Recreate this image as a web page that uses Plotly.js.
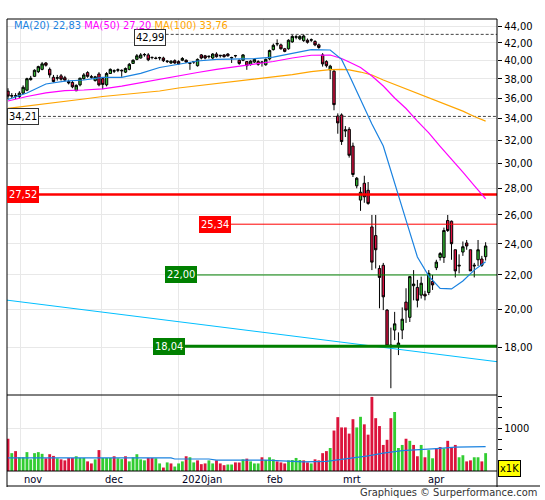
<!DOCTYPE html>
<html><head><meta charset="utf-8">
<script src="https://cdn.plot.ly/plotly-3.0.1.min.js"></script>
<style>html,body{margin:0;padding:0;background:#fff}#chart{width:545px;height:500px}</style>
</head><body><div id="chart"></div>
<script>
// ---- data ----
const openP = [36.7,36.2,36.25,36.15,36.5,36.8,37.9,38.25,38.75,39.0,
39.7,39.0,38.15,38.05,38.3,38.1,37.7,37.6,36.75,37.35,
38.0,38.65,38.15,37.8,38.5,38.0,37.35,38.55,38.8,38.9,
38.9,38.7,39.0,39.65,40.1,40.25,40.6,40.6,40.3,40.25,
40.25,40.25,39.85,39.7,39.95,39.85,40.0,40.0,39.65,39.8,
39.4,40.6,40.5,40.4,40.25,40.7,40.5,40.6,40.7,40.25,
40.5,40.0,40.0,39.85,39.55,39.8,39.85,39.75,39.5,40.15,
41.2,41.85,41.75,41.3,41.3,42.1,42.65,42.45,42.25,42.3,
42.3,42.15,41.75,40.6,39.85,38.95,38.8,34.25,34.35,32.85,
33.0,31.5,28.2,27.1,28.4,27.85,25.15,24.55,22.4,22.6,
19.95,18.1,18.87,18.05,18.87,20.4,19.55,21.35,21.25,20.8,
20.85,20.95,21.6,22.45,23.1,23.1,25.6,25.55,23.6,22.55,
23.45,24.05,23.6,22.55,22.95,23.0,23.15];
const highP = [37.0,36.5,36.5,36.7,37.3,38.1,38.3,39.0,39.4,39.8,
39.8,39.2,38.4,38.4,38.5,38.3,37.9,37.8,37.4,38.1,
38.6,38.8,38.4,38.3,38.7,38.1,38.7,39.1,39.0,39.1,
39.0,39.2,39.7,40.1,40.7,40.8,40.8,40.8,40.4,40.4,
40.4,40.4,40.0,40.0,40.1,40.0,40.35,40.1,39.8,39.9,
40.2,40.7,40.6,40.5,40.8,40.9,40.6,40.7,40.8,40.4,
40.6,40.1,40.7,39.9,40.0,40.2,40.0,39.9,40.2,41.2,
41.9,42.4,41.9,41.4,42.4,42.9,42.9,42.9,42.99,42.5,
42.5,42.3,41.9,40.8,40.0,39.5,39.0,34.5,34.5,33.3,
33.2,31.8,28.9,28.1,29.0,28.5,26.0,26.0,22.6,22.75,
20.0,19.0,19.85,18.75,20.1,21.2,21.9,22.3,21.7,21.9,
21.05,22.3,22.0,22.95,23.45,25.1,26.0,25.6,23.6,23.3,
24.15,24.25,23.6,22.75,24.25,23.2,24.1];
const lowP = [35.9,36.0,35.9,36.0,36.4,36.7,37.8,38.2,38.6,38.9,
39.3,38.1,37.6,37.8,37.8,37.7,37.4,37.0,36.7,37.2,
37.9,38.1,38.0,37.7,37.2,36.9,37.2,38.5,38.6,38.7,
38.2,38.6,38.9,39.6,40.0,40.2,40.4,39.9,40.1,40.1,
40.0,39.8,39.7,39.6,39.6,39.5,39.9,39.7,38.95,39.6,
39.3,40.1,40.1,40.2,40.1,40.3,40.3,40.3,40.4,39.7,
40.3,39.5,39.9,38.95,39.4,39.7,39.4,39.3,39.4,40.0,
41.1,41.6,41.2,40.9,41.2,42.0,42.4,42.3,42.1,41.9,
42.1,41.6,41.3,39.3,39.2,37.95,34.8,32.6,31.6,32.3,
30.5,28.9,28.0,26.3,26.9,26.75,22.3,22.4,20.05,19.95,
18.0,16.05,18.35,17.6,18.4,19.25,19.3,20.5,20.1,20.6,
20.5,20.8,21.1,22.3,22.9,22.75,24.8,22.95,21.85,22.1,
23.2,23.6,22.25,21.85,22.55,22.5,22.9];
const closeP = [36.2,36.25,36.2,36.5,37.1,38.0,38.05,38.9,39.3,39.6,
39.45,38.4,37.7,38.1,37.95,37.85,37.55,37.15,37.3,38.05,
38.4,38.25,38.2,38.2,37.35,37.4,38.55,39.0,38.85,38.95,
38.85,39.1,39.55,40.0,40.5,40.6,40.65,40.05,40.32,40.2,
40.3,39.95,39.9,39.9,39.7,39.6,40.2,39.8,39.7,39.85,
40.1,40.25,40.25,40.45,40.7,40.4,40.55,40.4,40.5,40.3,
40.52,39.65,40.6,39.4,39.9,40.1,39.55,39.8,40.1,41.1,
41.7,41.9,41.3,41.0,42.3,42.75,42.7,42.75,42.8,42.05,
42.35,41.75,41.45,39.6,39.4,39.35,35.35,33.6,31.9,32.95,
30.7,29.1,28.8,27.7,27.35,26.85,22.8,23.6,21.85,20.7,
18.05,18.05,19.2,18.2,19.45,19.95,21.9,21.45,20.5,21.5,
20.75,22.1,21.4,22.8,23.35,24.9,24.9,24.0,22.25,22.6,
23.8,23.85,22.25,22.6,23.6,22.6,23.85];
const volume = [759,420,468,323,323,444,274,420,444,404,
299,395,355,299,274,250,307,307,347,307,
307,226,178,274,492,307,307,307,347,299,
280,
347,226,323,395,274,250,307,307,299,178,
81,202,178,105,178,226,347,323,202,250,
161,178,250,178,250,178,137,153,153,202,
200,
274,291,226,178,178,323,258,323,274,226,
202,178,250,258,307,258,250,202,178,274,
250,420,468,541,952,1267,1025,1025,880,1219,
1025,1275,1098,855,1743,1243,1057,613,734,1243,
1388,541,613,759,710,613,347,613,323,492,
299,541,565,533,710,541,613,323,371,226,
250,323,323,226,420];
const volDir = "rgrggggggg"+"rrrgrrrrgg"+"grrgrgggrg"+"g"+"rgggggrrgg"+"rgrgggrggr"+"rrggrrrggr"+"r"+
  "grgggrgggr"+"rrggggrrgr"+"rrrgrrrrrr"+"ggrrrrrrrr"+"gggrgrrgrg"+"grrgrrrggr"+"rggrg";

// moving averages sampled along the chart (trading-day index, value)
const maIdx = [0,5,10,15,20,25,30,35,40,45,50,55,60,65,70,75,80,85,88,90,93,96,99,102,105,108,111,114,117,120,123,126];
const ma20  = [35.86,36.52,37.44,37.75,37.86,38.14,38.14,38.57,39.20,39.58,39.92,40.11,40.11,40.18,40.36,40.81,41.21,41.16,40.10,38.40,35.90,33.49,31.50,28.50,25.63,23.13,21.93,21.19,21.16,21.63,22.30,22.83];
const ma50  = [35.71,36.16,36.52,36.76,36.82,36.94,37.23,37.60,37.91,38.29,38.66,38.99,39.26,39.53,39.86,40.25,40.56,40.59,40.20,39.81,39.20,38.29,37.23,36.01,34.97,33.77,32.67,31.48,30.39,29.29,28.21,27.20];
const ma100 = [34.99,35.21,35.41,35.66,35.91,36.16,36.36,36.57,36.72,37.03,37.25,37.49,37.70,37.97,38.18,38.44,38.76,38.98,38.99,38.95,38.71,38.39,37.86,37.39,36.90,36.44,36.05,35.60,35.15,34.72,34.20,33.76];
const volMaIdx = [0,43,44,53,55,62,68,78,84,90,95,99,104,113,118,126];
const volMaVal = [310,307,282,282,258,265,258,215,226,299,355,420,480,525,560,575];

const levels = [42.99, 34.21, 27.52, 25.34, 22.00, 18.04];
const trendVals = [20.51, 17.28];
const priceTicks = [18,20,22,24,26,28,30,32,34,36,38,40,42,44];
const monthLabels = ['nov','dec','2020jan','feb','mrt','apr'];
const monthPos = [3.35, 24.7, 45.1, 67.5, 87.4, 109.8];

// ---- presentation ----
const FONT = 'DejaVu Sans Condensed, Liberation Sans, Arial, sans-serif';
const fmt = v => v.toFixed(2).replace('.', ',');
const xs = closeP.map((_, i) => i);
const X0 = -0.26, X1 = 129.0;
const C20 = '#1a82e0', C50 = '#ff00ff', C100 = '#ffa500';
const RED = '#dc143c', GREEN = '#32cd32';

// pixel -> paper helpers (plot area x 7..497, y 19..471)
const px = x => (x - 7) / 490;
const py = y => (471 - y) / 452;
const split = py(395);

const levelStyle = [
  {start: 41.6, color:'#444', width:1, dash:'3px,2px', lbl:{x:41.6, ref:'x', anchor:'right', bg:'#fff', border:'#333', fc:'#000', ys:-3}},
  {start: 7.9,  color:'#444', width:1, dash:'3px,2px', lbl:{x:0, ref:'paper', anchor:'left', bg:'#fff', border:'#333', fc:'#000', ys:0}},
  {start: X0,   color:'#ff0000', width:2.5, dash:'solid', lbl:{x:0, ref:'paper', anchor:'left', bg:'#ff0000', border:'#ff0000', fc:'#fff', ys:0}},
  {start: 58.8, color:'#ff0000', width:1, dash:'solid', lbl:{x:58.8, ref:'x', anchor:'right', bg:'#ff0000', border:'#ff0000', fc:'#fff', ys:0}},
  {start: 49.9, color:'#008000', width:1, dash:'solid', lbl:{x:49.9, ref:'x', anchor:'right', bg:'#008000', border:'#008000', fc:'#fff', ys:0}},
  {start: 46.7, color:'#008000', width:3, dash:'solid', lbl:{x:46.7, ref:'x', anchor:'right', bg:'#008000', border:'#008000', fc:'#fff', ys:0}}
];

const traces = [];
traces.push({type:'scatter', mode:'lines', x:[X0, X1], y:trendVals, xaxis:'x2', yaxis:'y',
  line:{color:'#00bfff', width:1}, hoverinfo:'skip'});
levels.forEach((v, k) => {
  const s = levelStyle[k];
  traces.push({type:'scatter', mode:'lines', x:[s.start, X1], y:[v, v], xaxis:'x2', yaxis:'y',
    line:{color:s.color, width:s.width, dash:s.dash}, hoverinfo:'skip'});
});
[[ma100, C100], [ma50, C50], [ma20, C20]].forEach(([arr, c]) => {
  traces.push({type:'scatter', mode:'lines', x:maIdx, y:arr, xaxis:'x2', yaxis:'y',
    line:{color:c, width:1.2}, hoverinfo:'skip'});
});
traces.push({type:'candlestick', x:xs, open:openP, high:highP, low:lowP, close:closeP,
  xaxis:'x2', yaxis:'y', whiskerwidth:0,
  increasing:{line:{color:'#000', width:1}, fillcolor:'#33b833'},
  decreasing:{line:{color:'#000', width:1}, fillcolor:'#dd1040'},
  hoverinfo:'skip'});
traces.push({type:'bar', x:xs, y:volume, xaxis:'x', yaxis:'y2',
  marker:{color:volume.map((_, i) => volDir[i] === 'g' ? GREEN : RED), line:{width:0}}, hoverinfo:'skip'});
traces.push({type:'scatter', mode:'lines', x:volMaIdx, y:volMaVal, xaxis:'x', yaxis:'y2',
  line:{color:C20, width:1.2}, hoverinfo:'skip'});

const annotations = [];
levels.forEach((v, k) => {
  const l = levelStyle[k].lbl;
  annotations.push({xref:l.ref, x:l.x, xanchor:l.anchor, yref:'y', y:Math.log10(v), yanchor:'middle', yshift:l.ys,
    text:fmt(v), showarrow:false, bgcolor:l.bg, bordercolor:l.border, borderwidth:1, borderpad:1,
    font:{family:FONT, size:11, color:l.fc}});
});
annotations.push({xref:'paper', yref:'paper', x:px(12), xanchor:'left', y:py(26), yanchor:'middle',
  showarrow:false, font:{family:FONT, size:11},
  text:'<span style="color:'+C20+'">MA(20) '+fmt(ma20[ma20.length-1])+'</span> '+
       '<span style="color:'+C50+'">MA(50) '+fmt(ma50[ma50.length-1])+'</span> '+
       '<span style="color:'+C100+'">MA(100) '+fmt(ma100[ma100.length-1])+'</span>'});
monthLabels.forEach((m, k) => {
  annotations.push({xref:'x', x:monthPos[k], xanchor:'left', xshift:1.5, yref:'paper', y:py(479), yanchor:'middle',
    text:m, showarrow:false, font:{family:FONT, size:11, color:'#000022'}});
});
annotations.push({xref:'paper', yref:'paper', x:px(539), xanchor:'right', y:py(492.5), yanchor:'middle',
  text:'Graphiques © Surperformance.com', showarrow:false, font:{family:FONT, size:11, color:'#333'}});
annotations.push({xref:'paper', yref:'paper', x:px(509.5), xanchor:'center', y:py(468), yanchor:'middle',
  text:'x1K', showarrow:false, bgcolor:'#ffff00', bordercolor:'#000', borderwidth:1, borderpad:1,
  font:{family:FONT, size:11, color:'#000'}});

const ln = {color:'#000', width:1};
const shapes = [
  {type:'line', xref:'paper', yref:'paper', x0:0, x1:0, y0:py(487), y1:1, line:ln},
  {type:'line', xref:'paper', yref:'paper', x0:1, x1:1, y0:py(487), y1:1, line:ln},
  {type:'line', xref:'paper', yref:'paper', x0:0, x1:1, y0:1, y1:1, line:ln},
  {type:'line', xref:'paper', yref:'paper', x0:0, x1:1, y0:split, y1:split, line:ln},
  {type:'line', xref:'paper', yref:'paper', x0:0, x1:1, y0:0, y1:0, line:ln},
  {type:'line', xref:'paper', yref:'paper', x0:0, x1:px(540), y0:py(486), y1:py(486), line:ln}
];

const gridC = '#e8e8e8';
const layout = {
  width:545, height:500,
  margin:{l:7, r:48, t:19, b:29, pad:0},
  paper_bgcolor:'#fff', plot_bgcolor:'#fff',
  showlegend:false, boxgap:0.1, bargap:0.25,
  font:{family:FONT, size:11, color:'#000'},
  xaxis:{anchor:'y2', domain:[0,1], range:[X0, X1], tickvals:monthPos, showticklabels:false, ticks:'',
    showgrid:true, gridcolor:gridC, zeroline:false, showline:false, rangeslider:{visible:false}, fixedrange:true},
  xaxis2:{anchor:'y', matches:'x', range:[X0, X1], tickvals:monthPos, showticklabels:false, ticks:'',
    showgrid:true, gridcolor:gridC, zeroline:false, showline:false, rangeslider:{visible:false}, fixedrange:true},
  yaxis:{domain:[split, 1], type:'log', range:[1.19726, 1.65196], side:'right',
    tickvals:priceTicks, ticktext:priceTicks.map(fmt), ticks:'outside', ticklen:4, tickcolor:'#000',
    tickfont:{family:FONT, size:11, color:'#000'},
    showgrid:true, gridcolor:gridC, zeroline:false, showline:false, fixedrange:true},
  yaxis2:{domain:[0, split], range:[0, 1788], side:'right',
    tickvals:[1000], ticktext:['1000'], ticks:'outside', ticklen:4, tickcolor:'#000',
    tickfont:{family:FONT, size:11, color:'#000'},
    minor:{tickvals:[250,500,750,1250,1500,1750], ticks:'outside', ticklen:4, tickcolor:'#000', showgrid:false},
    showgrid:true, gridcolor:gridC, zeroline:false, showline:false, fixedrange:true},
  annotations, shapes
};
Plotly.newPlot('chart', traces, layout, {displayModeBar:false, staticPlot:true});
</script></body></html>
